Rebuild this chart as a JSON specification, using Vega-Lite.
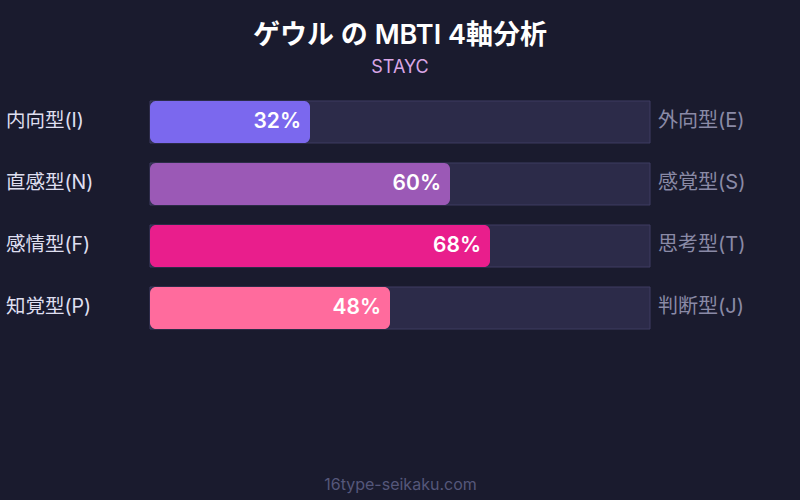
{
  "$schema": "https://vega.github.io/schema/vega-lite/v6.json",
  "autosize": {"type": "fit", "contains": "padding"},
  "width": 800,
  "height": 500,
  "padding": {"top": 21, "left": 0, "right": 0, "bottom": 8},
  "background": "#1a1b2e",
  "config": {
    "view": {"stroke": null},
    "font": "Inter, Noto Sans CJK JP, sans-serif"
  },
  "title": {
    "text": "ゲウル の MBTI 4軸分析",
    "subtitle": "STAYC",
    "anchor": "middle",
    "font": "Inter, Noto Sans CJK JP, sans-serif",
    "fontSize": 27,
    "fontWeight": 600,
    "color": "#ffffff",
    "subtitleFont": "Inter, Noto Sans CJK JP, sans-serif",
    "subtitleFontSize": 18,
    "subtitleColor": "#d9a6e6",
    "subtitlePadding": 9,
    "offset": 13.5
  },
  "data": {
    "values": [
      {"left": "内向型(I)", "right": "外向型(E)", "value": 32},
      {"left": "直感型(N)", "right": "感覚型(S)", "value": 60},
      {"left": "感情型(F)", "right": "思考型(T)", "value": 68},
      {"left": "知覚型(P)", "right": "判断型(J)", "value": 48}
    ]
  },
  "encoding": {
    "y": {
      "field": "left",
      "type": "nominal",
      "sort": null,
      "axis": null,
      "scale": {"range": [0, 248], "paddingInner": 0.3226, "paddingOuter": 0.161}
    }
  },
  "layer": [
    {
      "mark": {"type": "bar", "fill": "#2c2b49", "stroke": "#3e3d62", "strokeWidth": 1},
      "encoding": {
        "x": {
          "datum": 100,
          "type": "quantitative",
          "scale": {"domain": [-30, 130], "nice": false},
          "axis": {
            "title": "16type-seikaku.com",
            "titleColor": "#55577a",
            "titleFontSize": 16,
            "titleFontWeight": "normal",
            "labels": false,
            "ticks": false,
            "domain": false,
            "grid": false,
            "titlePadding": 0
          }
        }
      }
    },
    {
      "mark": {"type": "bar", "cornerRadius": 6},
      "encoding": {
        "x": {"field": "value", "type": "quantitative"},
        "color": {
          "field": "left",
          "type": "nominal",
          "legend": null,
          "scale": {
            "domain": ["内向型(I)", "直感型(N)", "感情型(F)", "知覚型(P)"],
            "range": ["#7b68ee", "#9b59b6", "#e91e8c", "#ff6b9d"]
          }
        }
      }
    },
    {
      "transform": [{"calculate": "format(datum.value, 'd') + '%'", "as": "label"}],
      "mark": {"type": "text", "align": "right", "baseline": "middle", "dx": -9, "fontSize": 21, "fontWeight": 600, "color": "#ffffff"},
      "encoding": {
        "x": {"field": "value", "type": "quantitative"},
        "text": {"field": "label"}
      }
    },
    {
      "mark": {"type": "text", "align": "left", "baseline": "middle", "dy": -1, "fontSize": 19.5, "color": "#dfdff0"},
      "encoding": {
        "x": {"datum": -28.8, "type": "quantitative"},
        "text": {"field": "left"}
      }
    },
    {
      "mark": {"type": "text", "align": "left", "baseline": "middle", "dy": -1, "fontSize": 20, "color": "#8a8aa6"},
      "encoding": {
        "x": {"datum": 101.6, "type": "quantitative"},
        "text": {"field": "right"}
      }
    }
  ]
}
